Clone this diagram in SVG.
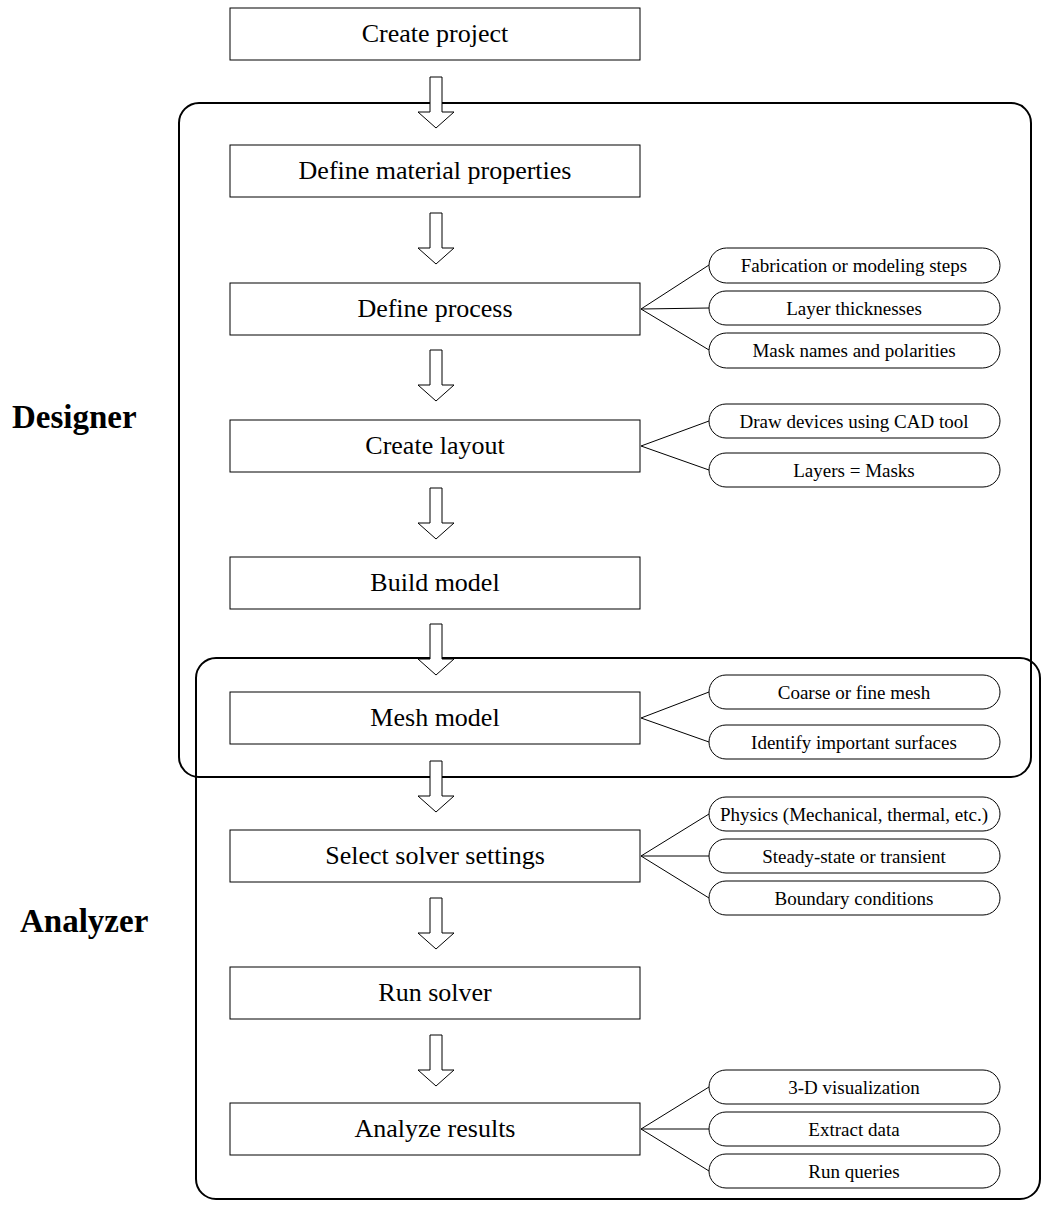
<svg xmlns="http://www.w3.org/2000/svg" width="1042" height="1205" viewBox="0 0 1042 1205">
<defs>
<style>
.box{fill:#fff;stroke:#000;stroke-width:1}
.grp{fill:none;stroke:#000;stroke-width:2}
.pill{fill:#fff;stroke:#000;stroke-width:1}
.arr{fill:#fff;stroke:#000;stroke-width:1}
.ln{stroke:#000;stroke-width:1;fill:none}
.bt{font-family:"Liberation Serif",serif;font-size:26px;text-anchor:middle;fill:#000}
.pt{font-family:"Liberation Serif",serif;font-size:19px;text-anchor:middle;fill:#000}
.lab{font-family:"Liberation Serif",serif;font-size:33px;font-weight:bold;fill:#000}
</style>
<polygon id="ar" class="arr" points="-6,0 6,0 6,35 18,35 0,51 -18,35 -6,35 -6,0"/>
</defs>
<rect width="1042" height="1205" fill="#fff"/>
<g id="designer-group"><rect class="grp" x="179" y="103" width="852" height="674" rx="20"/><text class="lab" x="12" y="428">Designer</text></g>
<g id="analyzer-group"><rect class="grp" x="196" y="658" width="844" height="541" rx="20"/><text class="lab" x="20" y="932">Analyzer</text></g>

<g id="connectors">
<use href="#ar" x="436" y="77"/>
<use href="#ar" x="436" y="213"/>
<use href="#ar" x="436" y="350"/>
<use href="#ar" x="436" y="488"/>
<use href="#ar" x="436" y="624"/>
<use href="#ar" x="436" y="761"/>
<use href="#ar" x="436" y="898"/>
<use href="#ar" x="436" y="1035"/>
<path class="ln" d="M641,309 L709,265 M641,309 L709,308 M641,309 L709,350"/>
<path class="ln" d="M641,446 L709,421 M641,446 L709,470"/>
<path class="ln" d="M641,718 L709,692 M641,718 L709,742"/>
<path class="ln" d="M641,856 L709,814 M641,856 L709,856 M641,856 L709,898"/>
<path class="ln" d="M641,1129 L709,1087 M641,1129 L709,1129 M641,1129 L709,1171"/>
</g>

<g id="n1"><rect class="box" x="230" y="8" width="410" height="52"/><text class="bt" x="435" y="42">Create project</text></g>
<g id="n2"><rect class="box" x="230" y="145" width="410" height="52"/><text class="bt" x="435" y="179">Define material properties</text></g>
<g id="n3"><rect class="box" x="230" y="283" width="410" height="52"/><text class="bt" x="435" y="317">Define process</text></g>
<g id="n4"><rect class="box" x="230" y="420" width="410" height="52"/><text class="bt" x="435" y="454">Create layout</text></g>
<g id="n5"><rect class="box" x="230" y="557" width="410" height="52"/><text class="bt" x="435" y="591">Build model</text></g>
<g id="n6"><rect class="box" x="230" y="692" width="410" height="52"/><text class="bt" x="435" y="726">Mesh model</text></g>
<g id="n7"><rect class="box" x="230" y="830" width="410" height="52"/><text class="bt" x="435" y="864">Select solver settings</text></g>
<g id="n8"><rect class="box" x="230" y="967" width="410" height="52"/><text class="bt" x="435" y="1001">Run solver</text></g>
<g id="n9"><rect class="box" x="230" y="1103" width="410" height="52"/><text class="bt" x="435" y="1137">Analyze results</text></g>

<g id="p1"><rect class="pill" x="709" y="248" width="291" height="35" rx="17.5"/><text class="pt" x="854" y="272">Fabrication or modeling steps</text></g>
<g id="p2"><rect class="pill" x="709" y="291" width="291" height="34" rx="17"/><text class="pt" x="854" y="315">Layer thicknesses</text></g>
<g id="p3"><rect class="pill" x="709" y="333" width="291" height="35" rx="17.5"/><text class="pt" x="854" y="357">Mask names and polarities</text></g>
<g id="p4"><rect class="pill" x="709" y="404" width="291" height="34" rx="17"/><text class="pt" x="854" y="428">Draw devices using CAD tool</text></g>
<g id="p5"><rect class="pill" x="709" y="453" width="291" height="34" rx="17"/><text class="pt" x="854" y="477">Layers = Masks</text></g>
<g id="p6"><rect class="pill" x="709" y="675" width="291" height="34" rx="17"/><text class="pt" x="854" y="699">Coarse or fine mesh</text></g>
<g id="p7"><rect class="pill" x="709" y="725" width="291" height="34" rx="17"/><text class="pt" x="854" y="749">Identify important surfaces</text></g>
<g id="p8"><rect class="pill" x="709" y="797" width="291" height="34" rx="17"/><text class="pt" x="854" y="821">Physics (Mechanical, thermal, etc.)</text></g>
<g id="p9"><rect class="pill" x="709" y="839" width="291" height="34" rx="17"/><text class="pt" x="854" y="863">Steady-state or transient</text></g>
<g id="p10"><rect class="pill" x="709" y="881" width="291" height="34" rx="17"/><text class="pt" x="854" y="905">Boundary conditions</text></g>
<g id="p11"><rect class="pill" x="709" y="1070" width="291" height="34" rx="17"/><text class="pt" x="854" y="1094">3-D visualization</text></g>
<g id="p12"><rect class="pill" x="709" y="1112" width="291" height="34" rx="17"/><text class="pt" x="854" y="1136">Extract data</text></g>
<g id="p13"><rect class="pill" x="709" y="1154" width="291" height="34" rx="17"/><text class="pt" x="854" y="1178">Run queries</text></g>
</svg>
